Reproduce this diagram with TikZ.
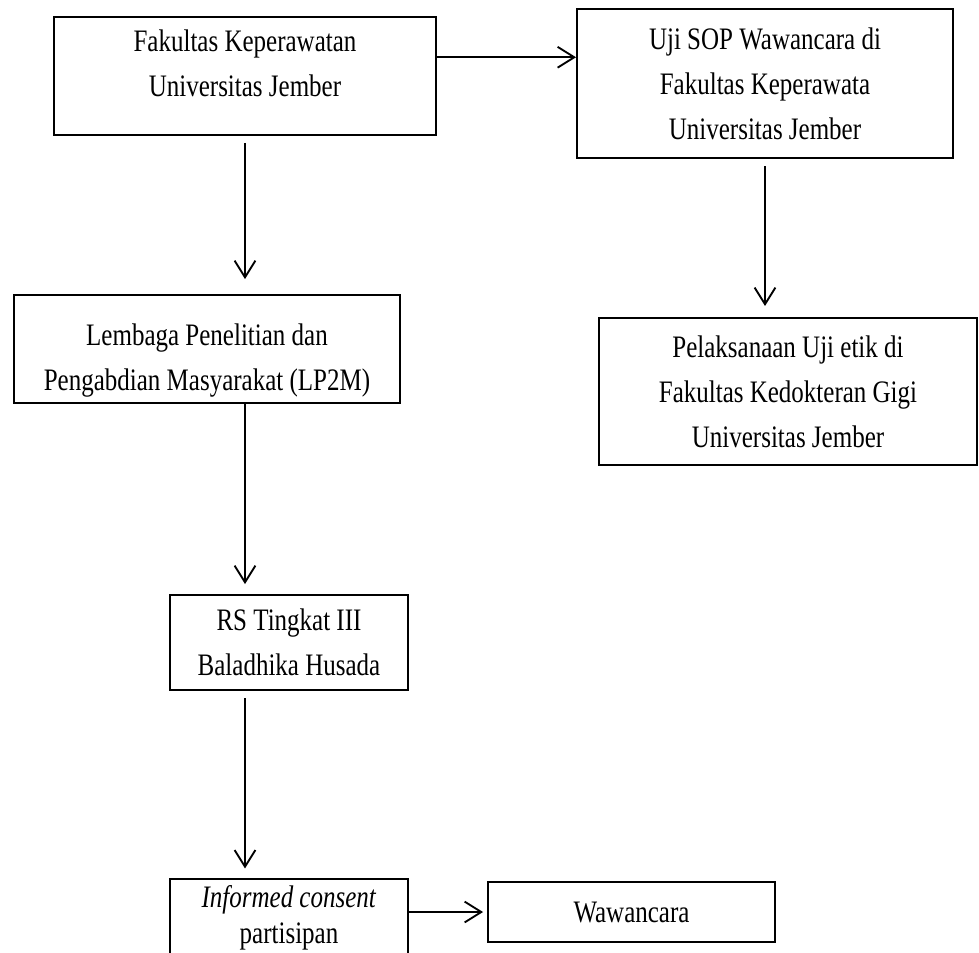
\documentclass[tikz,border=0pt]{standalone}
\usepackage{fontspec}
\setmainfont{Liberation Serif}[FakeStretch=0.8]
\usetikzlibrary{arrows.meta,positioning,calc}
\tikzset{
  >={Straight Barb[length=8pt,width=10pt]},
  box/.style={draw,line width=0.9pt,align=center,inner sep=3pt,
              font=\fontsize{15}{21.6}\selectfont},
  ar/.style={->,line width=0.9pt},
}
% invisible struts to push a text block up or down in its box
\newcommand{\dnstrut}[1]{\rule[-#1]{0pt}{#1}}
\newcommand{\upstrut}[1]{\rule{0pt}{#1}}

\begin{document}
\begin{tikzpicture}[x=0.48pt,y=-0.48pt]
\clip (0,0) rectangle (979,952);
% left column
\node[box,minimum width=183.4pt,minimum height=56.6pt] (fk) at (245,76)
  {Fakultas Keperawatan\\ Universitas Jember\dnstrut{12pt}};
\node[box,minimum width=185.3pt,minimum height=49pt] (lp) at (207,349)
  {\upstrut{21pt}Lembaga Penelitian dan\\ Pengabdian Masyarakat (LP2M)};
\node[box,minimum width=114.2pt,minimum height=45.6pt] (rs) at (289,642.5)
  {RS Tingkat III\\ Baladhika Husada};
\node[box,minimum width=114.2pt,minimum height=36.5pt,
      font=\fontsize{15}{17.3}\selectfont] (ic) at (289,918)
  {\textit{Informed consent}\\ partisipan};
% right column
\node[box,minimum width=180.5pt,minimum height=71.5pt] (uji) at (765,83.5)
  {Uji SOP Wawancara di\\ Fakultas Keperawata\\ Universitas Jember};
\node[box,minimum width=181.4pt,minimum height=70.6pt] (etik) at (788,391.5)
  {Pelaksanaan Uji etik di\\ Fakultas Kedokteran Gigi\\ Universitas Jember};
\node[box,minimum width=137.8pt,minimum height=28.8pt] (ww) at (631.5,912)
  {Wawancara};
% arrows
\draw[ar] ([yshift=9pt]fk.east) -- ([yshift=9pt]fk.east -| uji.west);
\draw[ar,shorten <=3.4pt,shorten >=7.2pt] (fk.south) -- (fk.south |- lp.north);
\draw[ar,shorten <=3.4pt,shorten >=5.3pt] (uji.south) -- (uji.south |- etik.north);
\draw[ar,shorten >=4.8pt] (lp.south -| fk.south) -- (rs.north -| fk.south);
\draw[ar,shorten <=3.4pt,shorten >=4.8pt] (rs.south -| fk.south) -- (ic.north -| fk.south);
\draw[ar,shorten >=1.9pt] (ww.west -| ic.east) -- (ww.west);
\end{tikzpicture}
\end{document}
